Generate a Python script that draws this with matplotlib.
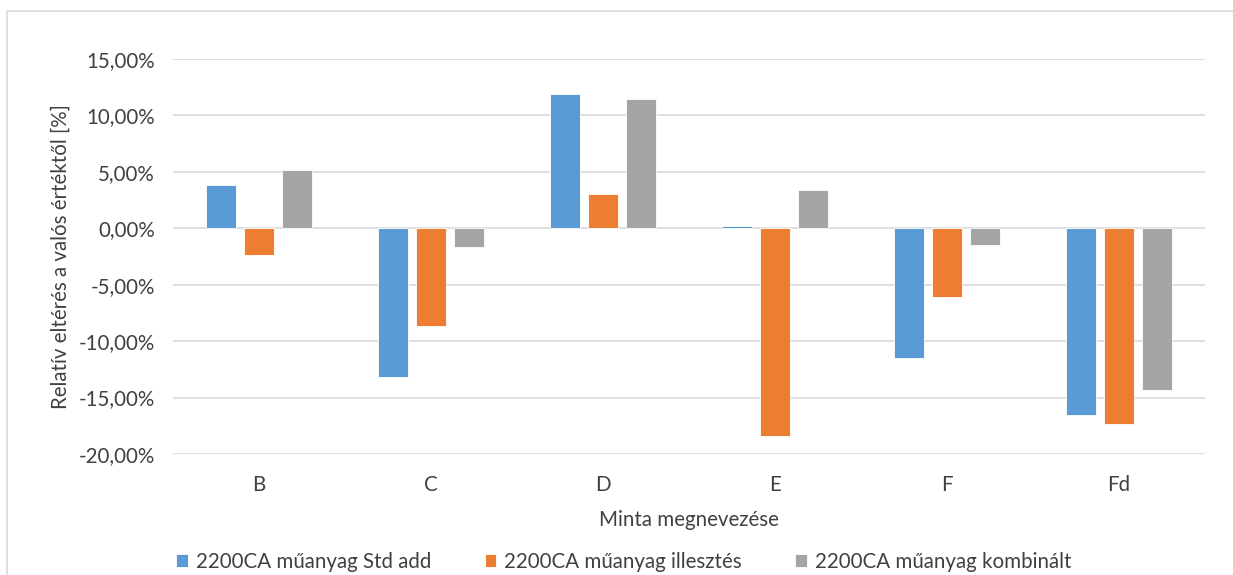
import numpy as np
import matplotlib.pyplot as plt
from matplotlib.patches import Rectangle
from matplotlib.ticker import FuncFormatter

plt.rcParams['font.family'] = ['Lato', 'DejaVu Sans']

minták = ["B", "C", "D", "E", "F", "Fd"]
std_add = [3.8, -13.2, 11.9, 0.2, -11.45, -16.5]
illesztes = [-2.4, -8.7, 3.07, -18.4, -6.1, -17.3]
kombinalt = [5.2, -1.7, 11.45, 3.4, -1.45, -14.3]
sorozatok = ["2200CA műanyag Std add", "2200CA műanyag illesztés", "2200CA műanyag kombinált"]
szinek = ["#5B9BD5", "#ED7D31", "#A5A5A5"]

fs = 14.8
szoveg = "#404040"

fig = plt.figure(figsize=(12.33, 5.75), dpi=100)
ax = fig.add_axes([0.1403, 0.2104, 0.837, 0.687])

# keret a diagram körül
fig.patches.append(Rectangle((7 / 1233, -0.1), 1.2, 1 - 11 / 575 + 0.1,
                             transform=fig.transFigure, fill=False,
                             edgecolor="#d9d9d9", linewidth=1.2))

x = np.arange(len(minták))
w = 0.175
off = 0.221
for i, (vals, nev, c) in enumerate(zip([std_add, illesztes, kombinalt], sorozatok, szinek)):
    ax.bar(x + (i - 1) * off, vals, w, color=c, label=nev,
           edgecolor="white", linewidth=0.6, zorder=3)

ax.set_xlim(-0.5, len(minták) - 0.5)
ax.set_ylim(-20, 15)
ax.set_yticks(np.arange(-20, 16, 5))
ax.yaxis.set_major_formatter(FuncFormatter(lambda v, p: f"{v:.2f}%".replace(".", ",")))
ax.grid(axis="y", color="#d9d9d9", linewidth=1.2, zorder=0)
for s in ax.spines.values():
    s.set_visible(False)
ax.tick_params(axis="both", length=0, labelsize=fs, labelcolor=szoveg)
ax.tick_params(axis="y", pad=13)
ax.tick_params(axis="x", pad=15)
ax.set_xticks(x)
ax.set_xticklabels(minták)

ax.set_xlabel("Minta megnevezése", fontsize=fs, color=szoveg, labelpad=11)
ax.set_ylabel("Relatív eltérés a valós értéktől [%]", fontsize=fs, color=szoveg, labelpad=6)

ax.legend(loc="lower center", bbox_to_anchor=(0.437, -0.345), ncol=3, frameon=False,
          fontsize=fs, handlelength=0.55, handleheight=0.55, handletextpad=0.4,
          columnspacing=2.6, labelcolor=szoveg)

fig.savefig("out.png", dpi=100, facecolor="white")
